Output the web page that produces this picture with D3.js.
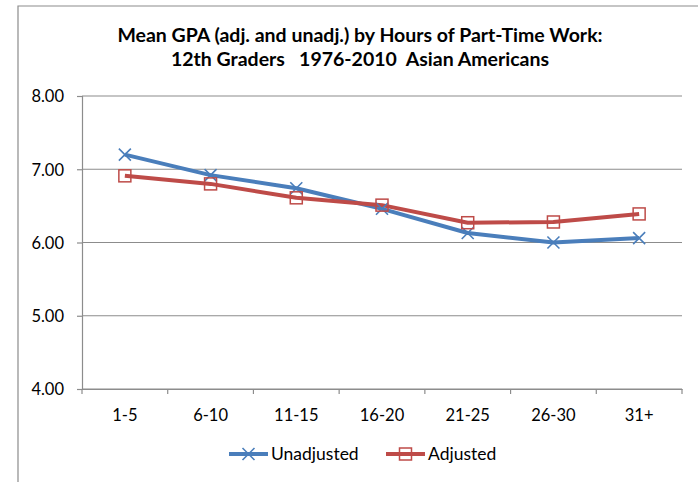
<!DOCTYPE html>
<html><head><meta charset="utf-8">
<script src="https://cdn.jsdelivr.net/npm/d3@7"></script>
<style>body{margin:0;background:#fff}svg{display:block}text{white-space:pre}</style>
</head><body>
<script>
const categories = ["1-5","6-10","11-15","16-20","21-25","26-30","31+"];
const unadjusted = [7.20,6.92,6.74,6.46,6.13,6.00,6.06];
const adjusted   = [6.91,6.80,6.61,6.51,6.27,6.28,6.39];
const yTicks = [4,5,6,7,8];
const titleLines = ["Mean GPA (adj. and unadj.) by Hours of Part-Time Work:","12th Graders   1976-2010  Asian Americans"];
const seriesNames = ["Unadjusted","Adjusted"];

const W=698,H=482;
const font="Lato, 'Liberation Sans', sans-serif";
const svg=d3.select("body").append("svg").attr("width",W).attr("height",H);
svg.append("rect").attr("width",W).attr("height",H).attr("fill","#fff");
// frame
svg.append("path").attr("d","M18,"+H+"V6H"+W).attr("fill","none").attr("stroke","#8c8c8c").attr("stroke-width",1.2);

const x=d3.scaleBand().domain(categories).range([82,682]);
const y=d3.scaleLinear().domain([4,8]).range([389,96]);

// gridlines
svg.append("g").selectAll("line").data(yTicks).join("line")
 .attr("x1",82).attr("x2",682).attr("y1",d=>y(d)).attr("y2",d=>y(d))
 .attr("stroke","#8c8c8c").attr("stroke-width",1.2);

const yAxis=svg.append("g").attr("transform","translate(82,0)")
 .call(d3.axisLeft(y).tickValues(yTicks).tickFormat(d3.format(".2f")).tickSize(5).tickPadding(13));
const xAxis=svg.append("g").attr("transform","translate(0,389)")
 .call(d3.axisBottom(x).tickSize(0).tickPadding(20));
// x tick marks at band boundaries
svg.append("g").selectAll("line").data(d3.range(categories.length+1)).join("line")
 .attr("x1",i=>82+i*x.step()).attr("x2",i=>82+i*x.step()).attr("y1",389).attr("y2",394)
 .attr("stroke","#8c8c8c").attr("stroke-width",1.2);
[yAxis,xAxis].forEach(a=>{
 a.selectAll(".domain").attr("stroke","#8c8c8c").attr("stroke-width",1.2);
 a.selectAll(".tick line").attr("stroke","#8c8c8c").attr("stroke-width",1.2);
 a.selectAll("text").attr("font-family",font).attr("fill","#000");
});
yAxis.selectAll("text").attr("font-size",16.5).attr("dy","0.35em");
xAxis.selectAll("text").attr("font-size",16.5);

// title
svg.append("g").selectAll("text").data(titleLines).join("text")
 .attr("x",360).attr("y",(d,i)=>42+i*24).attr("text-anchor","middle")
 .attr("font-family",font).attr("font-weight","bold").attr("font-size",19.5).text(d=>d);

const colors=["#4A7EBB","#BE4B48"];
const data=[unadjusted,adjusted];
const cx=i=>x(categories[i])+x.bandwidth()/2;
const line=d3.line().x((d,i)=>cx(i)).y(d=>y(d));
data.forEach((s,k)=>{
 svg.append("path").datum(s).attr("d",line).attr("fill","none")
  .attr("stroke",colors[k]).attr("stroke-width",4).attr("stroke-linejoin","round");
});
function xMark(g,px,py,c){
 const r=6;
 g.append("path").attr("d",`M${px-r},${py-r}L${px+r},${py+r}M${px-r},${py+r}L${px+r},${py-r}`)
  .attr("stroke",c).attr("stroke-width",1.6).attr("fill","none");
}
function sqMark(g,px,py,c){
 const r=6;
 g.append("rect").attr("x",px-r).attr("y",py-r).attr("width",2*r).attr("height",2*r)
  .attr("fill","none").attr("stroke",c).attr("stroke-width",1.5);
}
const mg=svg.append("g");
unadjusted.forEach((v,i)=>xMark(mg,cx(i),y(v),colors[0]));
adjusted.forEach((v,i)=>sqMark(mg,cx(i),y(v),colors[1]));

// legend
const lg=svg.append("g");
const items=[{x0:229,mk:xMark},{x0:386,mk:sqMark}];
items.forEach((it,k)=>{
 lg.append("line").attr("x1",it.x0).attr("x2",it.x0+39).attr("y1",454).attr("y2",454)
  .attr("stroke",colors[k]).attr("stroke-width",4);
 it.mk(lg,it.x0+19.5,454,colors[k]);
 lg.append("text").attr("x",it.x0+42).attr("y",454).attr("dy","0.35em")
  .attr("font-family",font).attr("font-size",17.5).text(seriesNames[k]);
});
</script>
</body></html>
